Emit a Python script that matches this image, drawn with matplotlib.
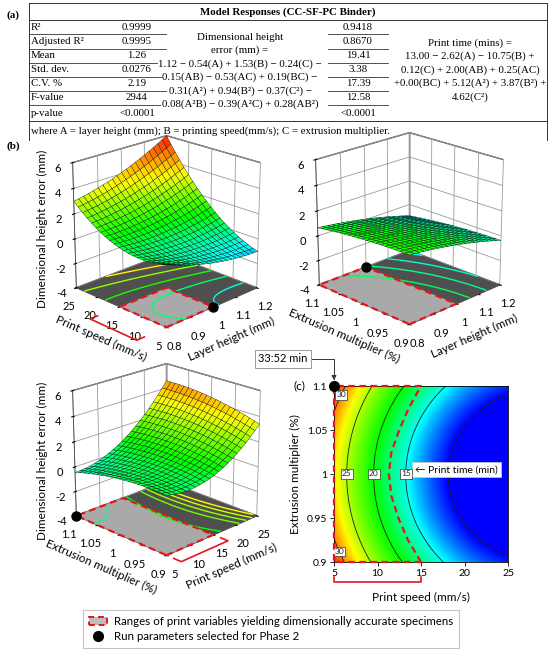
import numpy as np
import matplotlib
matplotlib.use("Agg")
import matplotlib.pyplot as plt
from matplotlib.colors import LinearSegmentedColormap, Normalize
from matplotlib.patches import Patch
from matplotlib.lines import Line2D
from matplotlib.transforms import blended_transform_factory
from mpl_toolkits.mplot3d.art3d import Poly3DCollection

plt.rcParams["font.family"] = ["Lato", "DejaVu Sans"]
plt.rcParams["grid.color"] = "#9a9a9a"
plt.rcParams["grid.linewidth"] = 0.6

W, H = 550, 655

# ── (a) table text ───────────────────────────────────────────────────────────
stat_labels = ["R²", "Adjusted R²", "Mean", "Std. dev.", "C.V. %", "F-value", "p-value"]
height_stats = ["0.9999", "0.9995", "1.26", "0.0276", "2.19", "2944", "<0.0001"]
time_stats = ["0.9418", "0.8670", "19.41", "3.38", "17.39", "12.58", "<0.0001"]
height_eq = ["Dimensional height", "error (mm) =",
             "1.12 − 0.54(A) + 1.53(B) − 0.24(C) −",
             "0.15(AB) − 0.53(AC) + 0.19(BC) −",
             "0.31(A²) + 0.94(B²) − 0.37(C²) −",
             "0.08(A²B) − 0.39(A²C) + 0.28(AB²)"]
time_eq = ["Print time (mins) =",
           "13.00 − 2.62(A) − 10.75(B) +",
           "0.12(C) + 2.00(AB) + 0.25(AC)",
           "+0.00(BC) + 5.12(A²) + 3.87(B²) +",
           "4.62(C²)"]
table_title = "Model Responses (CC-SF-PC Binder)"
footnote = "where A = layer height (mm); B = printing speed(mm/s); C = extrusion multiplier."

# ── process variables ───────────────────────────────────────────────────────
layer_ticks = [0.8, 0.9, 1.0, 1.1, 1.2]
layer_labels = ["0.8", "0.9", "1", "1.1", "1.2"]
speed_ticks = [5, 10, 15, 20, 25]
speed_labels = ["5", "10", "15", "20", "25"]
mult_ticks = [0.9, 0.95, 1.0, 1.05, 1.1]
mult_labels = ["0.9", "0.95", "1", "1.05", "1.1"]
z_ticks = [-4, -2, 0, 2, 4, 6]
z_name = "Dimensional height error (mm)"

acc_layer = [0.8, 1.0]     # dimensionally accurate ranges
acc_speed = [5, 15]
acc_mult = [0.9, 1.1]
run_layer, run_speed, run_mult = 1.0, 5, 1.1
run_time_label = "33:52 min"

# response surfaces (coded units), estimated from the plots: [c, u, v, uv, u², v²]
coef_layer_speed = [0.6, 0.3, 2.3, 1.2, 0.4, 1.2]
coef_layer_mult = [0.5, -0.82, -0.31, 0.01, -0.2, -0.14]
coef_speed_mult = [1.1, 1.96, 0.04, 0.56, 1.29, -0.35]
levels_layer_speed = [-0.6, 0.2, 1.2, 2.4, 3.6]
levels_layer_mult = [-0.8, -0.4, 0.0, 0.4]
levels_speed_mult = [0.0, 1.0, 2.0, 2.5, 3.0, 3.5]

# print time model from the table: const, A, B, C, AB, AC, BC, A², B², C²
time_coef = [13.00, -2.62, -10.75, 0.12, 2.00, 0.25, 0.00, 5.12, 3.87, 4.62]
time_levels = [10, 15, 20, 25, 30]

# edge of the accurate region in (c)
bound_mult = [0.9, 0.925, 0.95, 0.975, 1.0, 1.025, 1.05, 1.075, 1.1]
bound_speed = [15.0, 13.5, 12.4, 11.6, 11.3, 11.6, 12.5, 13.6, 15.0]

RED = "#e3161c"
surf_cmap = LinearSegmentedColormap.from_list(
    "de", [(0, "#0000ff"), (0.10, "#00ffff"), (0.33, "#00ff00"), (0.65, "#ffff00"), (1, "#ff0000")])
surf_norm = Normalize(-1.6, 6.2)
time_cmap = LinearSegmentedColormap.from_list(
    "de_t", [(0, "#0000ff"), (0.2, "#00ffff"), (0.43, "#00ff00"), (0.74, "#ffff00"), (1, "#ff0000")])
time_norm = Normalize(10, 33)


def coded(v, rng):
    lo, hi = rng
    return (v - (lo + hi) / 2) / ((hi - lo) / 2)


def quad(coef, u, v):
    c, cu, cv, cuv, cuu, cvv = coef
    return c + cu * u + cv * v + cuv * u * v + cuu * u ** 2 + cvv * v ** 2


fig = plt.figure(figsize=(W / 100, H / 100), dpi=100)


def fx(px):
    return px / W


def fy(py):
    return 1 - py / H


# ── table ────────────────────────────────────────────────────────────────────
serif = ["Liberation Serif", "DejaVu Serif"]
tfs = 7.8
fig.text(fx(13), fy(15), "(a)", family=serif, fontsize=8, fontweight="bold", ha="center", va="center")
fig.text(fx(288), fy(12), table_title, family=serif, fontsize=tfs, fontweight="bold", ha="center", va="center")
for x0, y0, x1, y1 in [(29, 3, 547, 3), (29, 20, 547, 20), (29, 121, 547, 121),
                       (29, 3, 29, 140), (547, 3, 547, 140)]:
    fig.add_artist(Line2D([fx(x0), fx(x1)], [fy(y0), fy(y1)], color="#333333", lw=0.7))
row_y = [27, 42, 56, 70, 84, 98, 114]
for i, y in enumerate(row_y):
    fig.text(fx(31), fy(y), stat_labels[i], family=serif, fontsize=tfs, ha="left", va="center")
    fig.text(fx(137), fy(y), height_stats[i], family=serif, fontsize=tfs, ha="center", va="center")
    fig.text(fx(358), fy(y), time_stats[i], family=serif, fontsize=tfs, ha="center", va="center")
    if i < len(row_y) - 1:
        ly = y + 7
        fig.add_artist(Line2D([fx(29), fx(166)], [fy(ly), fy(ly)], color="#333333", lw=0.6))
        fig.add_artist(Line2D([fx(328), fx(388)], [fy(ly), fy(ly)], color="#333333", lw=0.6))
for i, line in enumerate(height_eq):
    fig.text(fx(240), fy(37 + 13.5 * i), line, family=serif, fontsize=tfs, ha="center", va="center",
             bbox=dict(boxstyle="square,pad=0.05", fc="white", ec="none"))
for i, line in enumerate(time_eq):
    fig.text(fx(470), fy(43 + 13.5 * i), line, family=serif, fontsize=tfs, ha="center", va="center")
fig.text(fx(31), fy(131), footnote, family=serif, fontsize=tfs, ha="left", va="center")
fig.text(fx(13), fy(146), "(b)", family=serif, fontsize=8, fontweight="bold", ha="center", va="center")


# ── 3D response surfaces ─────────────────────────────────────────────────────
def surface_panel(rect, xr, yr, coef, xt, xl, yt, yl, xname, yname,
                  acc_x, acc_y, run_xy, levels, bracket=None):
    ax = fig.add_axes(rect, projection="3d", computed_zorder=False)
    ax.set_facecolor("none")
    ax.set_proj_type("persp", focal_length=0.85)
    ax.view_init(elev=21, azim=-135)
    ax.set_box_aspect((1, 1, 1.03), zoom=0.85)
    xs = np.linspace(xr[0], xr[1], 41)
    ys = np.linspace(yr[0], yr[1], 41)
    X, Y = np.meshgrid(xs, ys)
    Z = quad(coef, coded(X, xr), coded(Y, yr))
    fl = -4
    floor = [(xr[0], yr[0], fl), (xr[1], yr[0], fl), (xr[1], yr[1], fl), (xr[0], yr[1], fl)]
    ax.add_collection3d(Poly3DCollection([floor], facecolor="#4f4f4f", edgecolor="none", zorder=1))
    inner = [(acc_x[0], acc_y[0], fl), (acc_x[1], acc_y[0], fl), (acc_x[1], acc_y[1], fl), (acc_x[0], acc_y[1], fl)]
    ax.add_collection3d(Poly3DCollection([inner], facecolor="#a9a9a9", edgecolor="none", zorder=2))
    ax.contour(X, Y, Z, zdir="z", offset=fl, levels=levels, cmap=surf_cmap, norm=surf_norm,
               linewidths=1.0, zorder=3)
    ax.plot([acc_x[0], acc_x[1], acc_x[1], acc_x[0], acc_x[0]],
            [acc_y[0], acc_y[0], acc_y[1], acc_y[1], acc_y[0]], [fl] * 5,
            color=RED, lw=1.6, ls=(0, (3, 2)), zorder=4)
    ax.plot([run_xy[0]], [run_xy[1]], [fl], "o", color="black", ms=6.5, zorder=5)
    ax.plot_surface(X, Y, Z, cmap=surf_cmap, norm=surf_norm, edgecolor="black", linewidth=0.25,
                    rcount=21, ccount=21, zorder=6)
    if bracket is not None:
        bx, by = bracket
        ax.plot(bx, by, [fl] * len(bx), color=RED, lw=1.2, zorder=7)
    ax.set_xlim(xr)
    ax.set_ylim(yr)
    ax.set_zlim(-4, 6)
    ax.set_xticks(xt, xl)
    ax.set_yticks(yt, yl)
    ax.set_zticks(z_ticks, [str(z) for z in z_ticks])
    ax.tick_params(labelsize=8, pad=0)
    for axis in (ax.xaxis, ax.yaxis, ax.zaxis):
        axis.set_pane_color((1, 1, 1, 1))
        axis.pane.set_edgecolor("#4a4a4a")
        axis.line.set_color("#4a4a4a")
        axis.line.set_linewidth(0.6)
    ax.set_xlabel(xname, fontsize=8.5, labelpad=-2)
    ax.set_ylabel(yname, fontsize=8.5, labelpad=-2)
    return ax


surface_panel([fx(33), fy(360), 260 / W, 260 / H], (0.8, 1.2), (5, 25), coef_layer_speed,
              layer_ticks, layer_labels, speed_ticks, speed_labels,
              "Layer height (mm)", "Print speed (mm/s)", acc_layer, acc_speed,
              (run_layer, run_speed), levels_layer_speed,
              bracket=([0.71, 0.68, 0.68, 0.71], [acc_speed[0], acc_speed[0], acc_speed[1], acc_speed[1]]))
surface_panel([fx(276), fy(357), 260 / W, 260 / H], (0.8, 1.2), (0.9, 1.1), coef_layer_mult,
              layer_ticks, layer_labels, mult_ticks, mult_labels,
              "Layer height (mm)", "Extrusion multiplier (%)", acc_layer, acc_mult,
              (run_layer, run_mult), levels_layer_mult)
surface_panel([fx(33), fy(588), 260 / W, 260 / H], (5, 25), (0.9, 1.1), coef_speed_mult,
              speed_ticks, speed_labels, mult_ticks, mult_labels,
              "Print speed (mm/s)", "Extrusion multiplier (%)", acc_speed, acc_mult,
              (run_speed, run_mult), levels_speed_mult,
              bracket=([acc_speed[0], acc_speed[0], acc_speed[1], acc_speed[1]], [0.885, 0.87, 0.87, 0.885]))
# vertical z-axis titles, as in the original layout
fig.text(fx(42), fy(229), z_name, fontsize=8.5, rotation=90, ha="center", va="center")
fig.text(fx(42), fy(461), z_name, fontsize=8.5, rotation=90, ha="center", va="center")

# ── (c) print time contour ───────────────────────────────────────────────────
axc = fig.add_axes([fx(334), fy(562), 174 / W, 176 / H])
sp = np.linspace(5, 25, 241)
mu = np.linspace(0.9, 1.1, 241)
S, M = np.meshgrid(sp, mu)
A = 0.0
B = coded(S, (5, 25))
C = coded(M, (0.9, 1.1))
k = time_coef
T = (k[0] + k[1] * A + k[2] * B + k[3] * C + k[4] * A * B + k[5] * A * C + k[6] * B * C
     + k[7] * A ** 2 + k[8] * B ** 2 + k[9] * C ** 2)
axc.pcolormesh(S, M, T, cmap=time_cmap, norm=time_norm, shading="gouraud", rasterized=True)
cs = axc.contour(S, M, T, levels=time_levels, colors="#202020", linewidths=0.6)
lbls = axc.clabel(cs, inline=False, fontsize=6,
                  manual=[(5.8, 1.09), (6.6, 1.0), (9.6, 1.0), (13.3, 1.0), (5.8, 0.913)])
for t in lbls:
    t.set_rotation(0)
    t.set_bbox(dict(boxstyle="square,pad=0.15", fc="white", ec="#333333", lw=0.5))
axc.plot(bound_speed + [acc_speed[0], acc_speed[0], bound_speed[0]],
         bound_mult + [acc_mult[1], acc_mult[0], acc_mult[0]],
         color=RED, lw=1.6, ls=(0, (3, 2)), clip_on=False, zorder=5)
axc.plot([run_speed], [run_mult], "o", color="black", ms=7, clip_on=False, zorder=6)
axc.set_xlim(5, 25)
axc.set_ylim(0.9, 1.1)
axc.set_xticks(speed_ticks, speed_labels)
axc.set_yticks(mult_ticks, mult_labels)
axc.tick_params(labelsize=7.5, length=3, width=0.6, pad=2)
for s in axc.spines.values():
    s.set_linewidth(0.6)
axc.set_xlabel("Print speed (mm/s)", fontsize=8.5, labelpad=10)
axc.set_ylabel("Extrusion multiplier (%)", fontsize=8.5, labelpad=4)
axc.text(14.3, 1.005, "← Print time (min)", fontsize=7.5, ha="left", va="center",
         bbox=dict(boxstyle="square,pad=0.3", fc="white", ec="#cccccc", lw=0.5))
tr = blended_transform_factory(axc.transData, axc.transAxes)
axc.plot([acc_speed[0], acc_speed[0], acc_speed[1], acc_speed[1]], [-0.085, -0.115, -0.115, -0.085],
         color=RED, lw=1.2, transform=tr, clip_on=False)
axc.annotate(run_time_label, xy=(run_speed, run_mult), xycoords="data",
             xytext=(fx(283), fy(359)), textcoords="figure fraction",
             fontsize=8, ha="center", va="center",
             bbox=dict(boxstyle="square,pad=0.3", fc="white", ec="#999999", lw=0.7),
             arrowprops=dict(arrowstyle="-|>", color="#333333", lw=0.7, mutation_scale=7,
                             shrinkA=0, shrinkB=4,
                             connectionstyle="angle,angleA=0,angleB=90,rad=0"))
fig.text(fx(299), fy(386), "(c)", fontsize=8.5, ha="center", va="center")

# ── legend ───────────────────────────────────────────────────────────────────
handles = [Patch(facecolor="#bdbdbd", edgecolor=RED, linestyle=(0, (3, 2)), linewidth=1.4),
           Line2D([], [], marker="o", color="black", ls="none", ms=7)]
names = ["Ranges of print variables yielding dimensionally accurate specimens",
         "Run parameters selected for Phase 2"]
leg = fig.legend(handles, names, loc="center", bbox_to_anchor=(fx(271), fy(629)), fontsize=8.3,
                 frameon=True, fancybox=False, edgecolor="#b5b5b5", handlelength=1.6,
                 handletextpad=0.6, borderpad=0.5, labelspacing=0.35)
leg.get_frame().set_linewidth(0.8)

fig.savefig("out.png", dpi=100)
